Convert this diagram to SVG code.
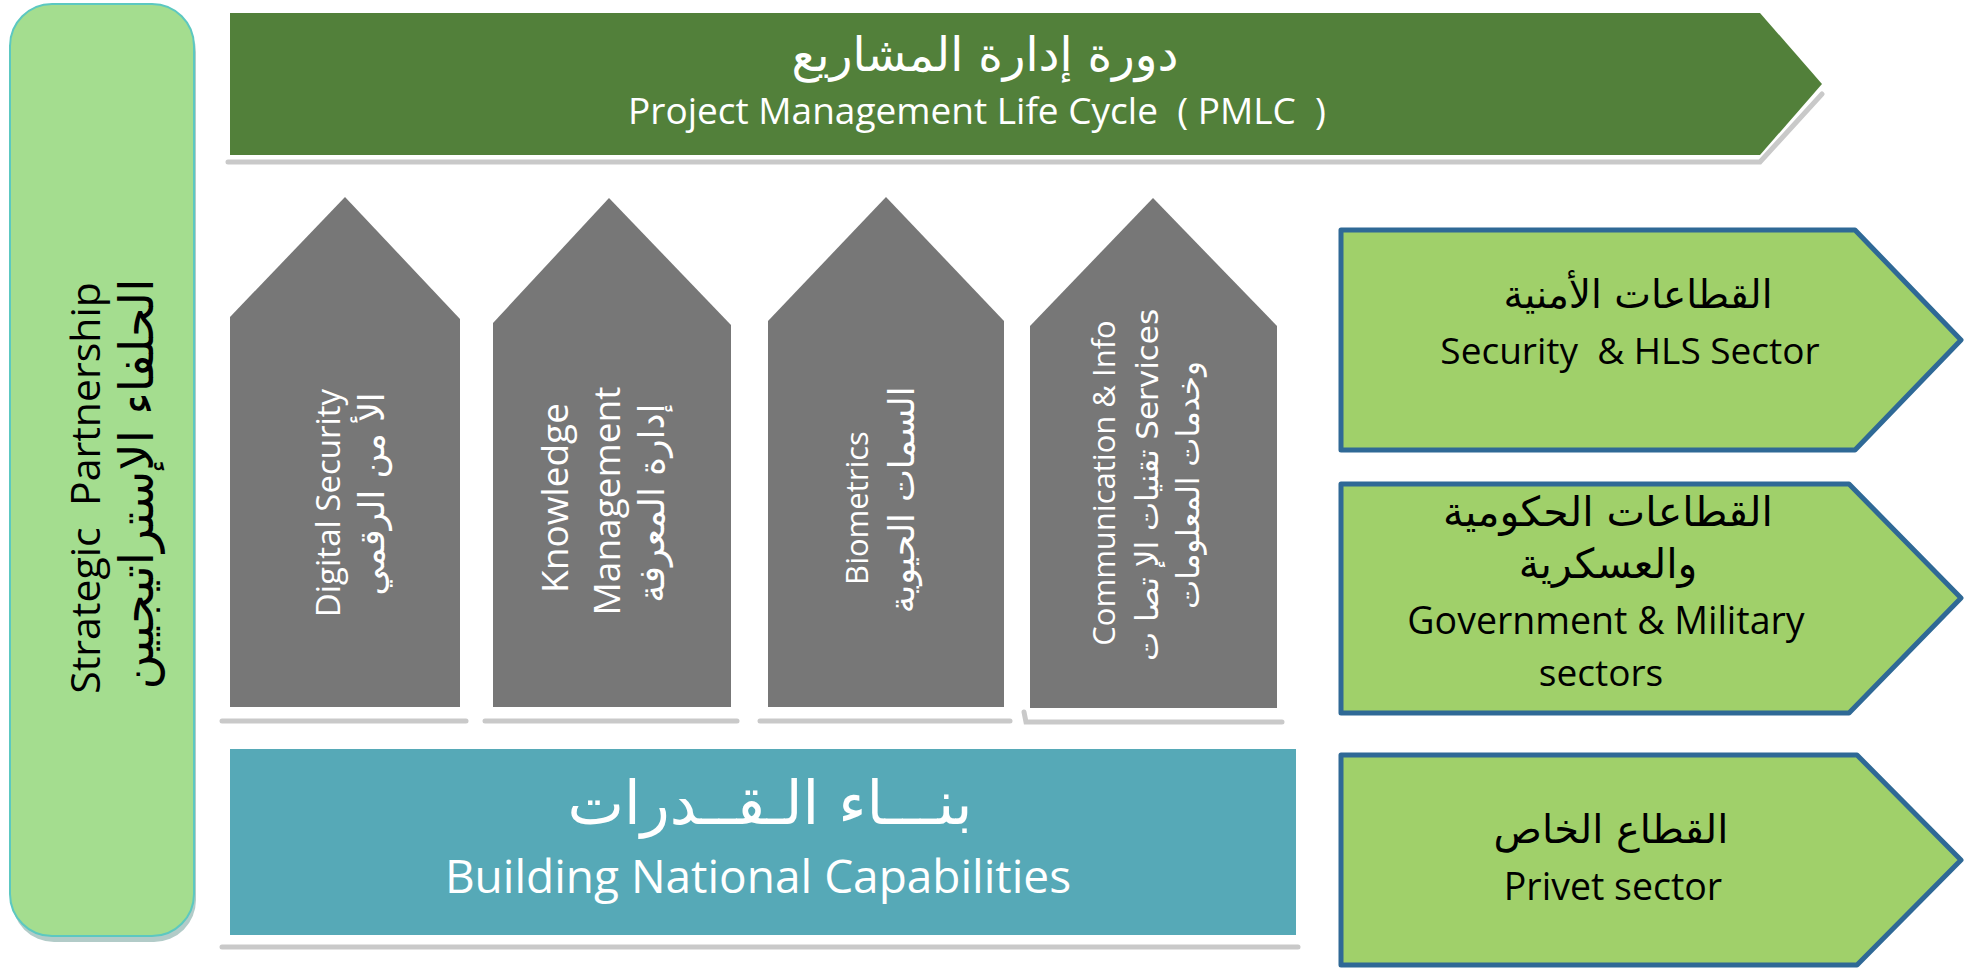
<svg xmlns="http://www.w3.org/2000/svg" width="1967" height="970" viewBox="0 0 1967 970">
<defs>
<style>
.en{font-family:"Open Sans","Liberation Sans",sans-serif}
.ar{font-family:"DejaVu Sans","Noto Sans",sans-serif}
.w{fill:#ffffff}
.k{fill:#000000}
.pillar{fill:#777777}
.sector{fill:#a0d06a;stroke:#2f6996;stroke-width:5;stroke-linejoin:round}
.shadow{fill:none;stroke:#c9c9c9;stroke-width:5;stroke-linecap:round}
</style>
</defs>
<rect width="1967" height="970" fill="#ffffff"/>

<g id="partners">
<rect x="12" y="10" width="184" height="932" rx="42" fill="#7fa8a3" opacity="0.6"/>
<rect x="10" y="4" width="184" height="932" rx="42" fill="#a4dd8f" stroke="#5cc8c1" stroke-width="2"/>
<text class="en k" font-size="41" xml:space="preserve" text-anchor="middle" transform="translate(100,488) rotate(-90)">Strategic  Partnership</text>
<text class="ar k" font-size="48" text-anchor="middle" transform="translate(153,484) rotate(-90)">الحلفاء الإستراتيجيين</text>
</g>

<g id="pmlc">
<polyline class="shadow" points="228,162 1760,162 1822,94"/>
<polygon points="230,13 1760,13 1822,84 1760,155 230,155" fill="#52803a"/>
<text class="ar w" font-size="47" text-anchor="middle" x="985" y="71">دورة إدارة المشاريع</text>
<text class="en w" font-size="37" xml:space="preserve" text-anchor="middle" x="977" y="124">Project Management Life Cycle  ( PMLC  )</text>
</g>

<g id="pillar-digital">
<line class="shadow" x1="222" y1="721" x2="466" y2="721"/>
<polygon class="pillar" points="230,317 345,197 460,319 460,707 230,707"/>
<text class="en w" font-size="33" text-anchor="middle" transform="translate(340,503) rotate(-90)">Digital Security</text>
<text class="ar w" font-size="35" text-anchor="middle" transform="translate(384,494) rotate(-90)">الأ من الرقمي</text>
</g>

<g id="pillar-knowledge">
<line class="shadow" x1="485" y1="721" x2="737" y2="721"/>
<polygon class="pillar" points="493,323 609,198 731,325 731,707 493,707"/>
<text class="en w" font-size="37" text-anchor="middle" transform="translate(568,498) rotate(-90)">Knowledge</text>
<text class="en w" font-size="37" text-anchor="middle" transform="translate(620,501) rotate(-90)">Management</text>
<text class="ar w" font-size="36" text-anchor="middle" transform="translate(664,503) rotate(-90)">إدارة المعرفة</text>
</g>

<g id="pillar-biometrics">
<line class="shadow" x1="760" y1="721" x2="1010" y2="721"/>
<polygon class="pillar" points="768,321 886,197 1004,321 1004,707 768,707"/>
<text class="en w" font-size="31" text-anchor="middle" transform="translate(868,508) rotate(-90)">Biometrics</text>
<text class="ar w" font-size="35" text-anchor="middle" transform="translate(914,500) rotate(-90)">السمات الحيوية</text>
</g>

<g id="pillar-ict">
<polyline class="shadow" points="1024,712 1026,722 1282,722"/>
<polygon class="pillar" points="1030,326 1153,198 1277,326 1277,708 1030,708"/>
<text class="en w" font-size="31" text-anchor="middle" xml:space="preserve" transform="translate(1115,483) rotate(-90)">Communication &amp; Info</text>
<text class="ar w" font-size="31" text-anchor="middle" direction="rtl" transform="translate(1158,485) rotate(-90)">Services تقنيات الإ تصا ت</text>
<text class="ar w" font-size="31" text-anchor="middle" transform="translate(1199,485) rotate(-90)">وخدمات المعلومات</text>
</g>

<g id="capabilities">
<line class="shadow" x1="222" y1="947" x2="1298" y2="947"/>
<rect x="230" y="749" width="1066" height="186" fill="#56a9b7"/>
<text class="ar w" font-size="60" text-anchor="middle" x="770" y="824">بنـــاء الـقــدرات</text>
<text class="en w" font-size="46" text-anchor="middle" x="758" y="893">Building National Capabilities</text>
</g>

<g id="sector-security">
<polygon class="sector" points="1341,230 1855,230 1961,340 1855,450 1341,450"/>
<text class="ar k" font-size="39" text-anchor="middle" x="1638" y="308">القطاعات الأمنية</text>
<text class="en k" font-size="37" xml:space="preserve" text-anchor="middle" x="1630" y="364">Security  &amp; HLS Sector</text>
</g>

<g id="sector-government">
<polygon class="sector" points="1341,484 1849,484 1961,598 1849,713 1341,713"/>
<text class="ar k" font-size="41" text-anchor="middle" x="1608" y="526">القطاعات الحكومية</text>
<text class="ar k" font-size="41" text-anchor="middle" x="1608" y="578">والعسكرية</text>
<text class="en k" font-size="37.5" text-anchor="middle" x="1606" y="634">Government &amp; Military</text>
<text class="en k" font-size="37" text-anchor="middle" x="1601" y="686">sectors</text>
</g>

<g id="sector-private">
<polygon class="sector" points="1341,755 1857,755 1961,860 1857,965 1341,965"/>
<text class="ar k" font-size="40" text-anchor="middle" x="1611" y="843">القطاع الخاص</text>
<text class="en k" font-size="37.5" text-anchor="middle" x="1613" y="900">Privet sector</text>
</g>

<g id="connectors"></g>
</svg>
